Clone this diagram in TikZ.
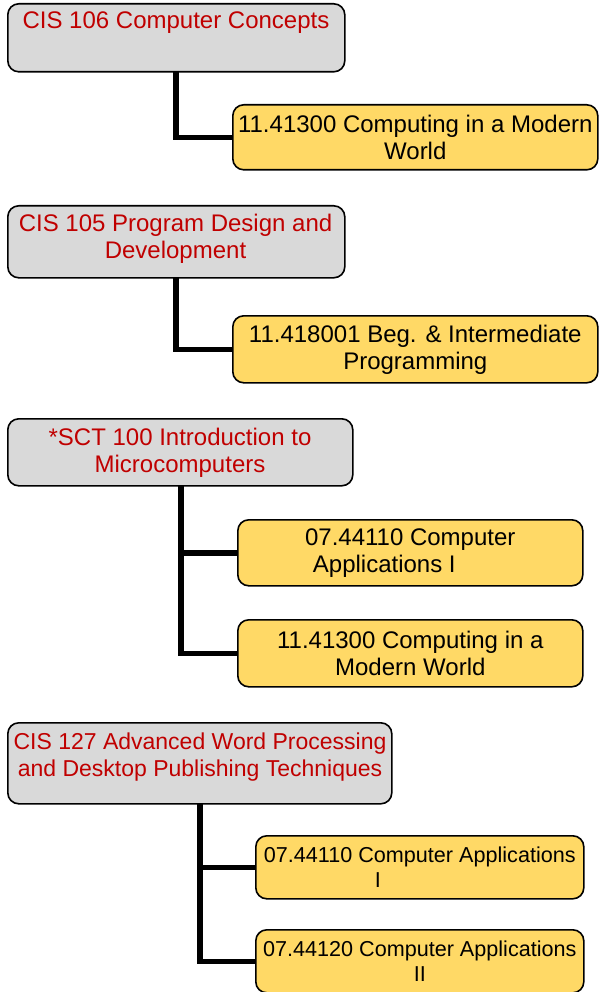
\documentclass[tikz,border=0pt]{standalone}
\usepackage{fontspec}
\setmainfont{Liberation Sans}
\definecolor{coursegray}{HTML}{D9D9D9}
\definecolor{mapgold}{HTML}{FFD966}
\definecolor{coursered}{HTML}{C00000}

\begin{document}
\begin{tikzpicture}[x=1pt,y=-1pt]
  \tikzstyle{every node}+=[inner sep=0pt]
  \tikzstyle{course}=[draw=black, line width=1.6pt, fill=coursegray, rounded corners=11pt, anchor=north west]
  \tikzstyle{coursename}=[anchor=north, text=coursered, align=center, font=\fontsize{24}{27}\selectfont]
  \tikzstyle{match}=[draw=black, line width=1.6pt, fill=mapgold, rounded corners=11pt, anchor=north west, align=center, font=\fontsize{24}{27}\selectfont]
  \tikzstyle{matchsmall}=[match, font=\fontsize{21.6}{25}\selectfont]
  \tikzstyle{link}=[black, line width=5.5pt]
  \useasboundingbox (0,0) rectangle (598,992);

  % CIS 106
  \node [course, minimum width=337, minimum height=68] (c106) at (7,3) {};
  \node [coursename] (c106t) at (176,12) {CIS 106 Computer Concepts};
  \node [match, minimum width=365, minimum height=65] (m106) at (232,104) {11.41300 Computing in a Modern\\World};
  \coordinate (c106b) at (176,71);
  \draw [link] (c106b) |- (m106.west);

  % CIS 105
  \node [course, minimum width=337, minimum height=72] (c105) at (7,205) {};
  \node [coursename] (c105t) at (175.5,214) {CIS 105 Program Design and\\Development};
  \node [match, minimum width=365, minimum height=67] (m105) at (232,315) {11.418001 Beg. \& Intermediate\\Programming};
  \coordinate (c105b) at (176,277);
  \draw [link] (c105b) |- (m105.west);

  % SCT 100
  \node [course, minimum width=345, minimum height=67] (s100) at (7,418) {};
  \node [coursename] (s100t) at (180,428) {*SCT 100 Introduction to\\Microcomputers};
  \node [match, minimum width=345, minimum height=66] (s100a) at (237,519) {07.44110 Computer\\Applications I\hspace*{52pt}};
  \node [match, minimum width=345, minimum height=67] (s100b) at (237,619) {11.41300 Computing in a\\Modern World};
  \coordinate (s100c) at (181,485);
  \draw [link] (s100c) |- (s100b.west);
  \draw [link] (s100a.west) -| (s100c);

  % CIS 127
  \node [course, minimum width=384, minimum height=81] (c127) at (7,722) {};
  \node [coursename, font=\fontsize{23}{27}\selectfont] (c127t) at (200,733) {CIS 127 Advanced Word Processing\\and Desktop Publishing Techniques};
  \node [matchsmall, minimum width=328, minimum height=63] (c127a) at (255,835) {07.44110 Computer Applications\\I\hspace*{84pt}};
  \node [matchsmall, minimum width=328, minimum height=63] (c127b) at (255,929) {07.44120 Computer Applications\\II};
  \coordinate (c127c) at (200,803);
  \draw [link] (c127c) |- (c127b.west);
  \draw [link] (c127a.west) -| (c127c);
\end{tikzpicture}
\end{document}
